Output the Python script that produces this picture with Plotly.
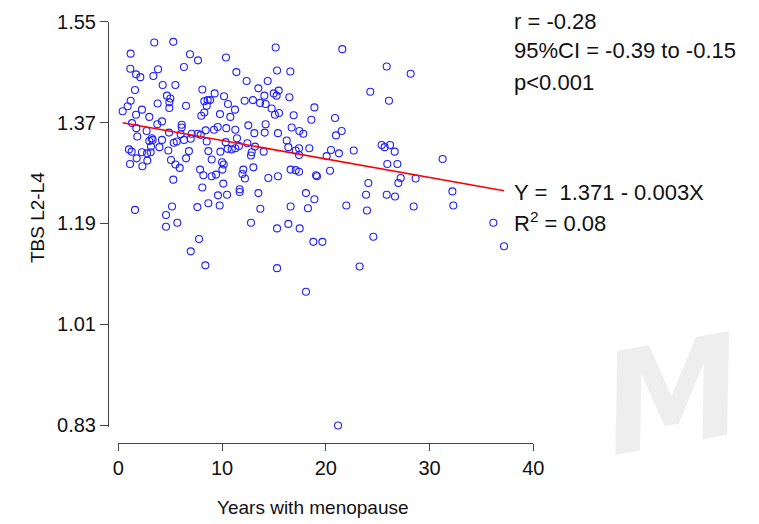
import plotly.graph_objects as go

# Years with menopause (x) and TBS L2-L4 (y)
years = [
    3.47, 5.30, 1.19, 6.91, 7.68, 10.38, 1.16, 3.83, 6.33, 1.71,
    2.12, 3.38, 11.38, 12.37, 4.28, 5.50, 1.61, 8.10, 9.29, 4.69,
    5.02, 10.19, 1.19, 3.79, 4.92, 8.29, 8.61, 8.84, 12.18, 0.90,
    6.53, 8.52, 4.92, 10.57, 0.42, 2.28, 11.25, 1.71, 8.29, 9.80,
    8.00, 2.99, 4.21, 10.80, 3.76, 6.11, 6.11, 1.32, 1.74, 9.58,
    9.22, 10.41, 8.42, 12.53, 2.73, 4.89, 6.01, 7.07, 7.65, 7.94,
    11.28, 1.83, 3.22, 3.31, 2.99, 6.33, 4.21, 5.34, 5.63, 6.98,
    10.35, 11.44, 3.15, 3.96, 8.52, 10.54, 10.93, 11.28, 11.63, 12.44,
    1.03, 1.29, 2.28, 2.77, 3.12, 4.82, 6.81, 8.68, 9.84,
    # lower-left block
    1.13, 1.77, 2.32, 2.80, 5.08, 5.50, 5.92, 6.53, 5.30, 7.88,
    8.20, 9.00, 9.00, 9.42, 10.00, 10.16, 10.03, 10.12, 8.10, 12.05,
    11.96, 12.21, 11.70, 11.70, 9.61, 10.48, 1.61, 5.18, 4.60, 7.62,
    8.68, 9.77, 5.69, 4.60, 7.78, 6.98, 8.39,
    # upper-middle block
    21.40, 15.17, 21.59, 15.30, 16.58, 13.50, 14.40, 15.46, 14.98, 15.26,
    14.08, 16.49, 24.29, 12.98, 13.66, 14.20, 14.78, 18.90, 15.49, 15.10,
    16.90, 18.61, 20.89, 14.20, 13.11, 14.11, 15.39, 16.71, 17.45, 17.83,
    20.98, 21.53, 16.23, 13.18, 16.39, 14.01, 12.86, 12.79, 17.10, 17.42,
    18.41, 17.42, 20.08, 20.50, 21.27, 22.69,
    # upper-right block
    25.87, 28.18, 26.09, 25.38, 25.67, 26.19, 26.64,
    # lower-middle block
    13.02, 14.46, 15.39, 16.61, 17.10, 17.42, 19.06, 19.15, 20.41, 13.50,
    18.09, 18.90, 24.10, 23.88, 13.69, 16.61, 18.28, 21.98, 23.97, 12.79,
    15.30, 16.39, 17.48, 18.80, 19.67, 24.58, 15.30, 23.26, 18.09,
    # lower-right block
    25.93, 26.90, 31.26, 27.22, 26.99, 28.66, 25.87, 26.67, 32.20, 28.47,
    32.29, 36.15, 37.18,
    # outlier
    21.18,
]

tbs = [
    1.513, 1.514, 1.493, 1.492, 1.481, 1.486, 1.466, 1.465, 1.469, 1.456,
    1.451, 1.453, 1.460, 1.444, 1.437, 1.437, 1.428, 1.429, 1.422, 1.418,
    1.413, 1.417, 1.409, 1.404, 1.406, 1.408, 1.410, 1.410, 1.409, 1.399,
    1.400, 1.400, 1.396, 1.403, 1.390, 1.393, 1.393, 1.384, 1.388, 1.385,
    1.382, 1.380, 1.372, 1.380, 1.367, 1.366, 1.361, 1.369, 1.360, 1.362,
    1.357, 1.360, 1.356, 1.365, 1.355, 1.352, 1.349, 1.350, 1.350, 1.348,
    1.357, 1.345, 1.342, 1.339, 1.337, 1.339, 1.339, 1.334, 1.336, 1.341,
    1.335, 1.342, 1.327, 1.326, 1.336, 1.323, 1.322, 1.324, 1.328, 1.333,
    1.322, 1.318, 1.317, 1.315, 1.317, 1.320, 1.319, 1.319, 1.318,
    # lower-left block
    1.296, 1.306, 1.292, 1.302, 1.303, 1.295, 1.289, 1.306, 1.268, 1.286,
    1.276, 1.304, 1.274, 1.277, 1.299, 1.295, 1.286, 1.261, 1.254, 1.286,
    1.278, 1.270, 1.251, 1.246, 1.240, 1.241, 1.214, 1.220, 1.205, 1.219,
    1.226, 1.222, 1.191, 1.184, 1.162, 1.140, 1.115,
    # upper-middle block
    1.551, 1.504, 1.501, 1.463, 1.461, 1.431, 1.444, 1.427, 1.422, 1.418,
    1.418, 1.415, 1.425, 1.410, 1.405, 1.403, 1.395, 1.397, 1.387, 1.384,
    1.383, 1.375, 1.378, 1.367, 1.351, 1.352, 1.351, 1.361, 1.355, 1.350,
    1.347, 1.355, 1.338, 1.327, 1.326, 1.318, 1.317, 1.311, 1.320, 1.324,
    1.324, 1.312, 1.310, 1.321, 1.315, 1.320,
    # upper-right block
    1.470, 1.457, 1.409, 1.330, 1.326, 1.330, 1.318,
    # lower-middle block
    1.290, 1.271, 1.274, 1.286, 1.285, 1.282, 1.276, 1.274, 1.284, 1.244,
    1.244, 1.233, 1.262, 1.241, 1.216, 1.220, 1.217, 1.222, 1.213, 1.191,
    1.181, 1.189, 1.181, 1.157, 1.157, 1.166, 1.110, 1.113, 1.068,
    # lower-right block
    1.296, 1.296, 1.305, 1.271, 1.262, 1.270, 1.241, 1.238, 1.247, 1.220,
    1.222, 1.191, 1.149,
    # outlier
    0.829,
]

# Regression line reported in the figure
reg_intercept = 1.371
reg_slope = -0.0033

x_ticks = [0, 10, 20, 30, 40]
y_ticks = [0.83, 1.01, 1.19, 1.37, 1.55]
y_tick_labels = ["0.83", "1.01", "1.19", "1.37", "1.55"]

stats_lines = ["r = -0.28", "95%CI = -0.39 to -0.15", "p<0.001"]
equation_lines = ["Y =  1.371 - 0.003X", "R<sup>2</sup> = 0.08"]

W, H = 759, 524
FONT = "Liberation Sans, Arial, sans-serif"
TXT = "#111111"
AX = "#444444"

line_x = [min(years), max(years)]
line_y = [reg_intercept + reg_slope * v for v in line_x]

fig = go.Figure()
fig.add_trace(go.Scatter(
    x=years, y=tbs, mode="markers",
    marker=dict(symbol="circle-open", size=7, color="#2020ff",
                line=dict(width=1.1, color="#2020ff")),
    cliponaxis=False, showlegend=False, hoverinfo="skip",
))
fig.add_trace(go.Scatter(
    x=line_x, y=line_y, mode="lines",
    line=dict(color="#ff0000", width=1.6),
    cliponaxis=False, showlegend=False, hoverinfo="skip",
))

def px_x(p):
    return p / W

def px_y(p):
    return (H - p) / H

# y range bottom slightly below the lowest tick so the outlier is kept
y_bottom_px = 426.5
y_top_px = 21.7
y_lo = 1.55 - (1.55 - 0.83) * (y_bottom_px - y_top_px) / (425 - y_top_px)

fig.update_layout(
    width=W, height=H,
    margin=dict(l=0, r=0, t=0, b=0),
    paper_bgcolor="white", plot_bgcolor="white",
    font=dict(family=FONT, color=TXT),
    xaxis=dict(
        domain=[px_x(118.3), px_x(533.3)], range=[0, 40],
        anchor="free", position=px_y(443),
        tickvals=x_ticks, ticks="outside", ticklen=7, tickwidth=1,
        tickcolor=AX, showline=True, linecolor=AX, linewidth=1,
        showgrid=False, zeroline=False,
        tickfont=dict(size=20, family=FONT, color=TXT),
        automargin=False,
    ),
    yaxis=dict(
        domain=[px_y(y_bottom_px), px_y(y_top_px)], range=[y_lo, 1.55],
        anchor="free", position=px_x(108),
        tickvals=y_ticks, ticktext=y_tick_labels, ticks="outside", ticklen=8, tickwidth=1,
        tickcolor=AX, showline=True, linecolor=AX, linewidth=1,
        showgrid=False, zeroline=False,
        tickfont=dict(size=20, family=FONT, color=TXT),
        automargin=False,
    ),
)

annotations = []
# faint watermark (drawn first so it sits below other annotations)
annotations.append(dict(text="M", xref="paper", yref="paper",
                        x=px_x(672), y=px_y(395), xanchor="center", yanchor="middle",
                        textangle=-10, showarrow=False,
                        font=dict(size=140, family="DejaVu Sans", color="#eeeeee",
                                  style="italic", weight="bold")))
# axis titles
annotations.append(dict(text="Years with menopause", xref="paper", yref="paper",
                        x=px_x(312.5), y=px_y(507), xanchor="center", yanchor="middle",
                        showarrow=False, font=dict(size=19, family=FONT, color=TXT)))
annotations.append(dict(text="TBS L2-L4", xref="paper", yref="paper",
                        x=px_x(38), y=px_y(218), xanchor="center", yanchor="middle",
                        textangle=-90, showarrow=False,
                        font=dict(size=19, family=FONT, color=TXT)))
# stats text
for txt, yc in zip(stats_lines, [21.7, 51, 82.5]):
    annotations.append(dict(text=txt, xref="paper", yref="paper",
                            x=px_x(512), y=px_y(yc), xanchor="left", yanchor="middle",
                            showarrow=False, font=dict(size=22, family=FONT, color=TXT)))
for txt, yc in zip(equation_lines, [192.5, 221.7]):
    annotations.append(dict(text=txt, xref="paper", yref="paper",
                            x=px_x(512), y=px_y(yc), xanchor="left", yanchor="middle",
                            showarrow=False, font=dict(size=22, family=FONT, color=TXT)))
fig.update_layout(annotations=annotations)

fig.write_html(
    "out.html",
    config={"displayModeBar": False},
    post_script="document.body.style.margin='0';document.body.style.overflow='hidden';",
)
